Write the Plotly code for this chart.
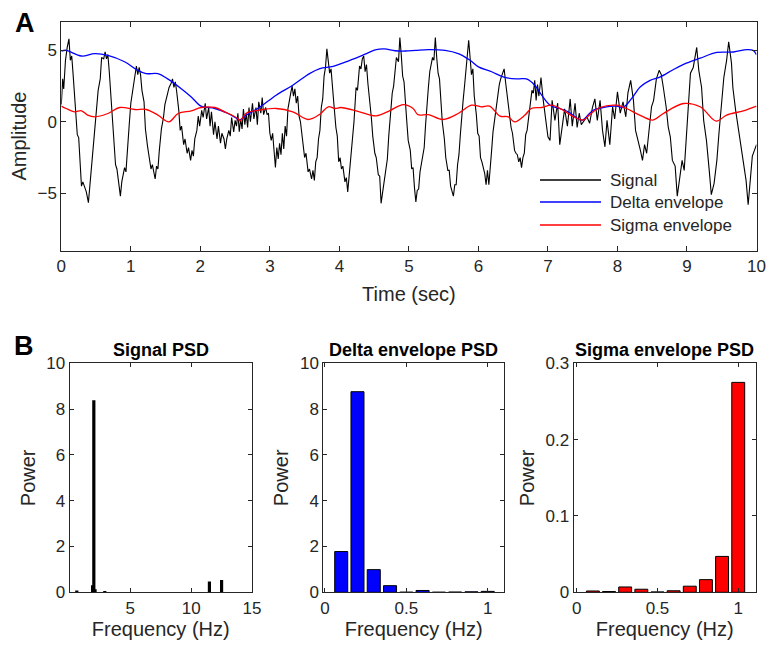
import plotly.graph_objects as go

# ---------------- data ----------------
signal_tv = [
    (0.00, 1.2), (0.02, 3.0), (0.035, 2.3), (0.06, 4.3), (0.085, 5.2), (0.11, 5.8), (0.13, 4.3), (0.15, 4.6),
    (0.17, 3.3), (0.20, 1.5), (0.23, -0.9), (0.25, -1.1), (0.27, -2.5), (0.29, -4.5), (0.31, -4.2), (0.33, -4.5),
    (0.36, -4.9), (0.39, -5.65), (0.41, -4.6), (0.43, -3.5), (0.46, -1.5), (0.48, -0.5), (0.50, 0.6), (0.53, 2.2),
    (0.56, 3.0), (0.58, 4.5), (0.61, 4.4), (0.63, 4.9), (0.65, 4.4), (0.67, 4.7), (0.69, 3.5), (0.72, 1.5),
    (0.74, -0.2), (0.76, -1.5), (0.78, -3.0), (0.80, -3.3), (0.83, -4.5), (0.85, -5.2), (0.87, -4.2), (0.89, -3.8),
    (0.91, -3.2), (0.93, -3.5), (0.95, -1.8), (0.98, 0.0), (1.00, 1.3), (1.03, 2.4), (1.06, 3.4), (1.08, 3.9),
    (1.10, 3.3), (1.12, 3.8), (1.14, 3.3), (1.16, 2.2), (1.19, 1.4), (1.21, -0.5), (1.24, -1.7), (1.27, -2.5),
    (1.29, -3.3), (1.31, -3.0), (1.33, -3.4), (1.35, -4.0), (1.37, -3.1), (1.39, -3.3), (1.41, -2.0), (1.44, -0.5),
    (1.47, 0.3), (1.49, 1.2), (1.52, 1.8), (1.55, 2.4), (1.58, 2.7), (1.60, 3.0), (1.62, 2.4), (1.64, 2.8),
    (1.66, 2.1), (1.69, 0.8), (1.71, -0.6), (1.73, -0.3), (1.76, -1.6), (1.78, -1.2), (1.81, -2.2), (1.83, -1.8),
    (1.86, -2.7), (1.88, -2.0), (1.90, -2.4), (1.92, -1.2), (1.95, -0.6), (1.97, 0.4), (1.99, -0.3), (2.02, 0.8),
    (2.04, 0.3), (2.07, 1.3), (2.09, 0.2), (2.12, 1.0), (2.14, -0.3), (2.16, 0.7), (2.19, -0.9), (2.21, 0.0),
    (2.24, -1.2), (2.26, -0.3), (2.29, -1.5), (2.31, -0.8), (2.34, -1.2), (2.36, -1.9), (2.38, -1.2), (2.41, -0.6),
    (2.43, -1.0), (2.45, 0.3), (2.48, -0.7), (2.50, 0.1), (2.52, -0.3), (2.54, 0.6), (2.56, -0.7), (2.58, 0.2),
    (2.60, -0.5), (2.62, 0.9), (2.64, -0.2), (2.66, 0.6), (2.68, -0.4), (2.70, 1.0), (2.72, 0.0), (2.75, 1.3),
    (2.77, 0.2), (2.80, 1.0), (2.82, -0.2), (2.84, 1.4), (2.87, 0.6), (2.89, 1.7), (2.91, 0.5), (2.94, 1.0),
    (2.96, 0.5), (2.98, 0.6), (3.00, -0.8), (3.02, -1.3), (3.04, -0.8), (3.06, -2.2), (3.08, -3.2), (3.10, -1.8),
    (3.12, -2.6), (3.14, -1.5), (3.16, -2.3), (3.18, -0.8), (3.20, -1.9), (3.22, -0.3), (3.24, -1.0), (3.26, 0.9),
    (3.28, 1.6), (3.30, 2.0), (3.32, 2.5), (3.34, 1.8), (3.36, 2.3), (3.38, 1.3), (3.40, 1.8), (3.42, 0.4),
    (3.44, 0.0), (3.47, -1.3), (3.50, -2.5), (3.52, -2.2), (3.55, -3.5), (3.57, -3.3), (3.60, -4.0), (3.62, -3.4),
    (3.64, -4.1), (3.66, -2.8), (3.68, -2.5), (3.70, -1.2), (3.72, -0.6), (3.74, 1.0), (3.76, 1.6), (3.78, 3.2),
    (3.80, 3.8), (3.82, 5.1), (3.84, 4.4), (3.86, 3.4), (3.88, 3.7), (3.90, 2.2), (3.92, 1.3), (3.95, -0.4),
    (3.97, -1.0), (3.99, -2.8), (4.01, -2.5), (4.03, -3.3), (4.05, -3.1), (4.08, -4.2), (4.10, -3.9), (4.12, -4.9),
    (4.14, -3.8), (4.16, -2.5), (4.18, -1.6), (4.21, 0.0), (4.24, 2.4), (4.26, 2.2), (4.29, 3.9), (4.31, 3.7),
    (4.33, 4.4), (4.35, 4.6), (4.37, 3.5), (4.39, 4.0), (4.41, 2.7), (4.44, 1.5), (4.46, 0.3), (4.48, -1.0),
    (4.51, -2.2), (4.53, -2.5), (4.56, -3.7), (4.58, -3.8), (4.60, -5.7), (4.62, -5.0), (4.64, -4.2), (4.66, -3.5),
    (4.69, -2.6), (4.71, -1.0), (4.73, 0.5), (4.76, 2.0), (4.78, 2.5), (4.80, 3.4), (4.82, 4.5), (4.85, 4.2),
    (4.87, 5.9), (4.89, 4.7), (4.91, 3.2), (4.93, 2.8), (4.95, 1.0), (4.97, 0.0), (4.99, -1.3), (5.02, -2.0),
    (5.04, -3.3), (5.06, -3.2), (5.08, -4.6), (5.10, -5.6), (5.12, -4.8), (5.14, -4.7), (5.16, -3.5), (5.19, -2.5),
    (5.22, -1.8), (5.24, -0.2), (5.26, 1.5), (5.28, 2.4), (5.30, 3.5), (5.32, 4.0), (5.34, 4.5), (5.36, 4.3),
    (5.38, 5.9), (5.40, 4.5), (5.42, 3.4), (5.44, 3.0), (5.46, 1.5), (5.48, 0.0), (5.51, -1.2), (5.53, -2.5),
    (5.56, -3.4), (5.58, -3.4), (5.60, -4.5), (5.62, -4.8), (5.64, -5.2), (5.66, -4.4), (5.68, -4.4), (5.70, -3.0),
    (5.72, -2.3), (5.74, -0.9), (5.76, 0.5), (5.78, 1.5), (5.80, 2.5), (5.82, 3.6), (5.84, 4.3), (5.86, 5.7),
    (5.88, 4.5), (5.90, 3.3), (5.92, 3.7), (5.94, 1.8), (5.97, 0.5), (5.99, -0.8), (6.01, -1.0), (6.03, -2.5),
    (6.05, -2.8), (6.07, -3.3), (6.09, -3.6), (6.11, -4.4), (6.13, -3.4), (6.15, -4.4), (6.17, -2.8), (6.19, -2.0),
    (6.21, -0.7), (6.24, 0.4), (6.26, 1.5), (6.28, 2.2), (6.30, 2.6), (6.32, 3.0), (6.34, 3.3), (6.37, 3.7),
    (6.39, 2.8), (6.41, 2.0), (6.43, 1.5), (6.45, 0.3), (6.47, -0.4), (6.49, -0.8), (6.52, -2.0), (6.54, -2.2),
    (6.56, -2.3), (6.58, -2.8), (6.60, -2.5), (6.62, -3.2), (6.64, -2.5), (6.66, -2.2), (6.68, -0.9), (6.70, -0.6),
    (6.73, 0.6), (6.75, 1.5), (6.77, 2.2), (6.79, 2.0), (6.81, 2.9), (6.83, 1.5), (6.85, 2.6), (6.87, 1.8),
    (6.90, 3.1), (6.93, 1.6), (6.96, 0.6), (7.00, -1.05), (7.03, -1.3), (7.06, 1.5), (7.10, 0.1), (7.14, 1.3),
    (7.17, -1.6), (7.21, -0.3), (7.24, 0.9), (7.28, -0.3), (7.32, 1.6), (7.35, -0.3), (7.39, 1.3), (7.42, -0.4),
    (7.45, 0.6), (7.48, -0.2), (7.51, 0.0), (7.53, 0.2), (7.56, 0.35), (7.60, -0.1), (7.64, 1.0), (7.675, 1.6),
    (7.71, 0.1), (7.75, 1.5), (7.785, -0.6), (7.82, -1.75), (7.85, 0.1), (7.89, -1.6), (7.93, 1.05), (7.96, 0.2),
    (8.00, 2.1), (8.04, 0.6), (8.08, 1.4), (8.12, 0.35), (8.15, 2.0), (8.19, 2.9), (8.23, 1.5), (8.26, -0.6),
    (8.30, -1.3), (8.33, -2.0), (8.36, -2.7), (8.39, -1.6), (8.42, -2.2), (8.46, -0.35), (8.49, 1.05), (8.52, 1.5),
    (8.56, 3.0), (8.60, 3.6), (8.63, 3.3), (8.66, 2.4), (8.70, 1.05), (8.73, -0.35), (8.76, -1.05), (8.79, -2.7),
    (8.83, -3.1), (8.86, -5.2), (8.90, -3.8), (8.93, -2.7), (8.96, -3.4), (8.98, -1.75), (9.02, 1.75), (9.05, 3.4),
    (9.09, 3.8), (9.14, 5.2), (9.17, 3.6), (9.21, 2.4), (9.24, 0.1), (9.28, -1.3), (9.32, -3.4), (9.35, -5.1),
    (9.39, -4.3), (9.43, -2.7), (9.46, -0.8), (9.50, 1.3), (9.53, 3.1), (9.57, 4.3), (9.60, 5.6), (9.64, 4.1),
    (9.66, 2.4), (9.70, 0.8), (9.74, -0.6), (9.77, -1.3), (9.81, -2.9), (9.85, -4.1), (9.88, -5.8), (9.91, -4.3),
    (9.94, -2.4), (9.97, -2.0), (10.00, -1.6),
]

delta_env_tv = [
    (0.00, 4.95), (0.07, 5.0), (0.29, 4.6), (0.48, 4.77), (0.67, 4.65), (0.91, 4.2), (1.10, 3.6), (1.22, 3.37),
    (1.39, 3.37), (1.53, 3.0), (1.73, 2.3), (1.87, 1.74), (2.01, 1.1), (2.21, 0.93), (2.40, 0.58), (2.54, 0.19),
    (2.57, 0.12), (2.66, 0.47), (2.85, 1.0), (3.09, 1.86), (3.33, 2.56), (3.57, 3.37), (3.72, 3.72), (3.91, 3.88),
    (4.15, 4.3), (4.39, 4.77), (4.53, 5.05), (4.65, 5.1), (4.80, 4.97), (4.95, 4.95), (5.10, 5.0), (5.28, 5.05),
    (5.52, 5.0), (5.71, 4.77), (5.88, 4.3), (6.00, 3.84), (6.19, 3.5), (6.38, 3.1), (6.57, 3.0), (6.69, 3.0),
    (6.81, 2.56), (6.91, 1.86), (7.03, 1.16), (7.17, 0.93), (7.29, 0.7), (7.46, 0.14), (7.50, 0.12), (7.65, 0.81),
    (7.79, 1.0), (7.99, 1.1), (8.08, 1.0), (8.20, 1.6), (8.33, 2.45), (8.47, 2.9), (8.61, 3.13), (8.80, 3.64),
    (8.99, 4.1), (9.19, 4.45), (9.43, 4.85), (9.67, 4.88), (9.86, 5.05), (9.95, 5.0), (10.00, 4.7),
]

sigma_env_tv = [
    (0.00, 1.1), (0.07, 0.93), (0.19, 0.7), (0.29, 0.77), (0.38, 0.47), (0.48, 0.35), (0.67, 0.58), (0.84, 1.0),
    (1.06, 0.86), (1.22, 0.86), (1.39, 0.47), (1.55, 0.0), (1.68, 0.58), (1.87, 0.77), (2.01, 1.0), (2.21, 1.0),
    (2.35, 0.7), (2.54, 0.23), (2.57, 0.07), (2.66, 0.6), (2.85, 0.81), (3.09, 0.93), (3.33, 0.7), (3.55, 0.16),
    (3.72, 0.53), (3.84, 1.05), (3.94, 0.93), (4.02, 1.0), (4.29, 0.7), (4.53, 0.42), (4.72, 0.77), (4.92, 1.2),
    (5.06, 0.93), (5.13, 0.5), (5.28, 0.5), (5.49, 0.16), (5.71, 0.58), (5.90, 1.16), (6.04, 1.05), (6.16, 1.1),
    (6.31, 0.4), (6.43, 0.35), (6.52, 0.0), (6.67, 0.47), (6.76, 0.93), (6.91, 1.0), (7.05, 1.16), (7.20, 0.86),
    (7.39, 0.3), (7.51, 0.12), (7.60, 0.5), (7.75, 1.0), (7.99, 1.16), (8.13, 0.93), (8.32, 0.47), (8.51, 0.12),
    (8.66, 0.58), (8.95, 1.28), (9.19, 1.05), (9.42, 0.05), (9.57, 0.47), (9.81, 0.77), (10.00, 1.1),
]

psd_signal_freq = [0.6, 1.9, 2.0, 2.1, 2.9, 11.5, 12.5]
psd_signal_power = [0.05, 0.28, 8.35, 0.1, 0.02, 0.44, 0.5]

psd_env_freq = [0.1, 0.2, 0.3, 0.4, 0.5, 0.6, 0.7, 0.8, 0.9, 1.0]
psd_delta_power = [1.78, 8.76, 0.99, 0.29, 0.005, 0.08, 0.003, 0.01, 0.02, 0.04]
psd_sigma_power = [0.0017, 0.001, 0.007, 0.004, 0.0005, 0.002, 0.008, 0.0166, 0.047, 0.275]

series_names = ["Signal", "Delta envelope", "Sigma envelope"]
panel_titles = ["Signal PSD", "Delta envelope PSD", "Sigma envelope PSD"]

# ---------------- figure ----------------
FONT = "Liberation Sans, Arial, Helvetica, sans-serif"
AX = "#262626"
W, H = 768, 648

def px(x):
    return x / W

def py(y):
    return 1 - y / H

sig_t = [p[0] for p in signal_tv]
sig_v = [p[1] for p in signal_tv]
del_t = [p[0] for p in delta_env_tv]
del_v = [p[1] for p in delta_env_tv]
sgm_t = [p[0] for p in sigma_env_tv]
sgm_v = [p[1] for p in sigma_env_tv]

fig = go.Figure()
fig.add_trace(go.Scatter(x=sig_t, y=sig_v, mode="lines", name=series_names[0],
                         line=dict(color="#000000", width=1.1), xaxis="x", yaxis="y", showlegend=False))
fig.add_trace(go.Scatter(x=del_t, y=del_v, mode="lines", name=series_names[1], line_shape="spline",
                         line=dict(color="#0000FF", width=1.3), xaxis="x", yaxis="y", showlegend=False))
fig.add_trace(go.Scatter(x=sgm_t, y=sgm_v, mode="lines", name=series_names[2], line_shape="spline",
                         line=dict(color="#FF0000", width=1.3), xaxis="x", yaxis="y", showlegend=False))

fig.add_trace(go.Bar(x=psd_signal_freq, y=psd_signal_power, width=0.14,
                     marker=dict(color="#000000", line=dict(color="#000000", width=1.5)),
                     xaxis="x2", yaxis="y2", showlegend=False))
fig.add_trace(go.Bar(x=psd_env_freq, y=psd_delta_power, width=0.08,
                     marker=dict(color="#0000FF", line=dict(color="#000000", width=1)),
                     xaxis="x3", yaxis="y3", showlegend=False))
fig.add_trace(go.Bar(x=psd_env_freq, y=psd_sigma_power, width=0.08,
                     marker=dict(color="#FF0000", line=dict(color="#000000", width=1)),
                     xaxis="x4", yaxis="y4", showlegend=False))

def axis(**kw):
    d = dict(showline=True, linecolor=AX, linewidth=1, mirror="ticks", ticks="inside",
             tickcolor=AX, ticklen=5, tickwidth=1, showgrid=False, zeroline=False,
             tickfont=dict(family=FONT, size=17, color=AX), automargin=False)
    d.update(kw)
    return d

tf = dict(family=FONT, size=20, color=AX)

top_y = [py(250.5), py(21.7)]
bot_y = [py(592.3), py(363.3)]
p1 = [px(69.5), px(252)]
p2 = [px(323.3), px(504)]
p3 = [px(573.5), px(756)]

fig.update_layout(
    width=W, height=H, margin=dict(l=0, r=0, t=0, b=0),
    paper_bgcolor="white", plot_bgcolor="white",
    font=dict(family=FONT, color=AX),
    xaxis=axis(domain=[px(61.3), px(756.5)], anchor="y", range=[0, 10], tickvals=list(range(0, 11)),
               title=dict(text="Time (sec)", font=tf, standoff=12)),
    yaxis=axis(domain=top_y, anchor="x", range=[-9, 7], tickvals=[-5, 0, 5],
               title=dict(text="Amplitude", font=tf, standoff=5)),
    xaxis2=axis(domain=p1, anchor="y2", range=[0, 15], tickvals=[5, 10, 15], ticklen=4,
                title=dict(text="Frequency (Hz)", font=tf, standoff=0)),
    yaxis2=axis(domain=bot_y, anchor="x2", range=[0, 10], tickvals=[0, 2, 4, 6, 8, 10], ticklen=4,
                title=dict(text="Power", font=tf, standoff=5)),
    xaxis3=axis(domain=p2, anchor="y3", range=[-0.01, 1.1], tickvals=[0, 0.5, 1], ticklen=4,
                title=dict(text="Frequency (Hz)", font=tf, standoff=0)),
    yaxis3=axis(domain=bot_y, anchor="x3", range=[0, 10], tickvals=[0, 2, 4, 6, 8, 10], ticklen=4,
                title=dict(text="Power", font=tf, standoff=5)),
    xaxis4=axis(domain=p3, anchor="y4", range=[-0.02, 1.11], tickvals=[0, 0.5, 1], ticklen=4,
                title=dict(text="Frequency (Hz)", font=tf, standoff=0)),
    yaxis4=axis(domain=bot_y, anchor="x4", range=[0, 0.3], tickvals=[0, 0.1, 0.2, 0.3], ticklen=4,
                title=dict(text="Power", font=tf, standoff=5)),
)

# manual legend (line samples + labels) in the lower right of panel A
leg_y = [180, 202, 225]
leg_col = ["#000000", "#0000FF", "#FF0000"]
shapes = []
annotations = []
for name, yy, c in zip(series_names, leg_y, leg_col):
    shapes.append(dict(type="line", xref="paper", yref="paper", x0=px(540), x1=px(601),
                       y0=py(yy), y1=py(yy), line=dict(color=c, width=1.3)))
    annotations.append(dict(text=name, xref="paper", yref="paper", x=px(608), y=py(yy),
                            xanchor="left", yanchor="middle", showarrow=False,
                            font=dict(family=FONT, size=17, color=AX)))

# panel titles
for title, dom in zip(panel_titles, [p1, p2, p3]):
    annotations.append(dict(text="<b>" + title + "</b>", xref="paper", yref="paper",
                            x=(dom[0] + dom[1]) / 2, y=py(362), xanchor="center", yanchor="bottom",
                            showarrow=False, font=dict(family=FONT, size=18, color="#000000")))

# panel letters
annotations.append(dict(text="<b>A</b>", xref="paper", yref="paper", x=px(13), y=py(6),
                        xanchor="left", yanchor="top", showarrow=False,
                        font=dict(family=FONT, size=27, color="#000000")))
annotations.append(dict(text="<b>B</b>", xref="paper", yref="paper", x=px(12), y=py(329),
                        xanchor="left", yanchor="top", showarrow=False,
                        font=dict(family=FONT, size=27, color="#000000")))

fig.update_layout(shapes=shapes, annotations=annotations)

fig.write_html("out.html", config={"displayModeBar": False})
